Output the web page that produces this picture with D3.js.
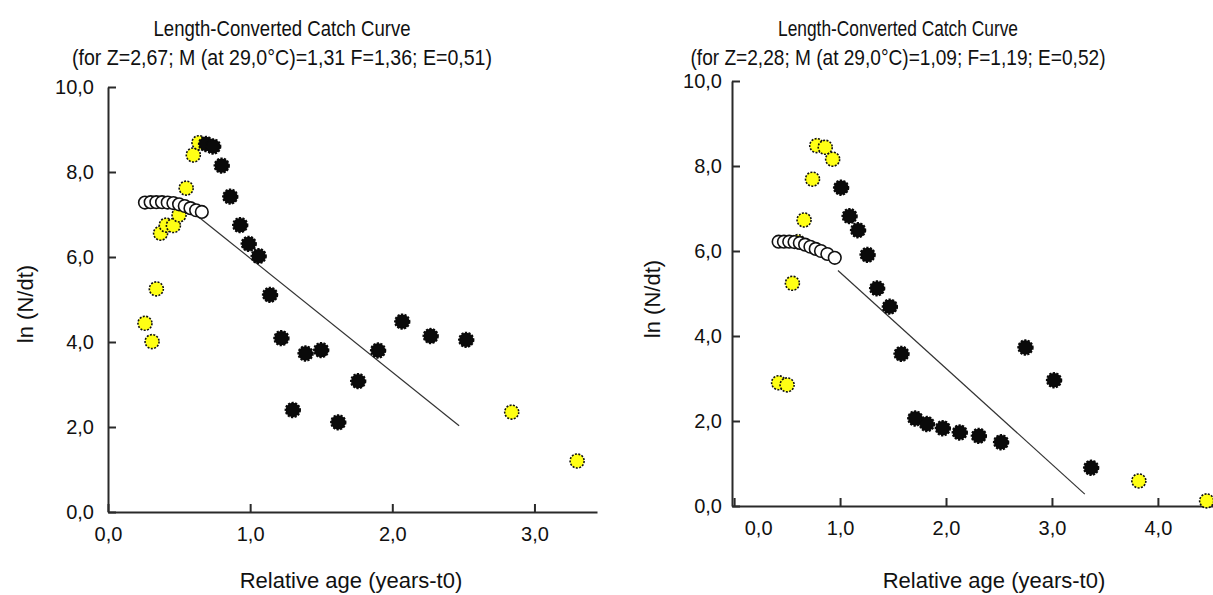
<!DOCTYPE html>
<html>
<head>
<meta charset="utf-8">
<script src="https://cdn.jsdelivr.net/npm/d3@7/dist/d3.min.js"></script>
<style>
  body { margin: 0; background: #fff; }
  svg { display: block; font-family: "Liberation Sans", Arial, sans-serif; }
  .axis path, .axis line { stroke: #2a2a2a; stroke-width: 2; }
  .axis text { font-family: "Liberation Sans", Arial, sans-serif; font-size: 20px; fill: #111; }
  .title, .axisTitle { fill: #111; }
</style>
</head>
<body>
<svg id="chart" width="1213" height="595"></svg>
<script>
// ---- left panel data
var leftTitle = ["Length-Converted Catch Curve", "(for Z=2,67; M (at 29,0°C)=1,31 F=1,36; E=0,51)"];
var leftXTicks = [0, 1, 2, 3];
var leftYTicks = [0, 2, 4, 6, 8, 10];
var leftYellowX = [0.26, 0.31, 0.34, 0.37, 0.41, 0.46, 0.50, 0.55, 0.60, 0.64, 2.84, 3.30];
var leftYellowY = [4.44, 4.01, 5.25, 6.56, 6.75, 6.74, 6.99, 7.62, 8.40, 8.69, 2.35, 1.20];
var leftOpenX = [0.26, 0.30, 0.34, 0.38, 0.42, 0.46, 0.50, 0.54, 0.58, 0.62, 0.66];
var leftOpenY = [7.28, 7.29, 7.29, 7.29, 7.28, 7.27, 7.24, 7.20, 7.15, 7.10, 7.06];
var leftBlackX = [0.69, 0.74, 0.80, 0.86, 0.93, 0.99, 1.06, 1.14, 1.22, 1.30, 1.39, 1.50, 1.62, 1.76, 1.90, 2.07, 2.27, 2.52];
var leftBlackY = [8.66, 8.60, 8.15, 7.42, 6.75, 6.31, 6.02, 5.11, 4.09, 2.40, 3.73, 3.81, 2.11, 3.08, 3.80, 4.48, 4.14, 4.05];
var leftLineX = [0.62, 2.47];
var leftLineY = [6.99, 2.03];

// ---- right panel data
var rightTitle = ["Length-Converted Catch Curve", "(for Z=2,28; M (at 29,0°C)=1,09; F=1,19; E=0,52)"];
var rightXTicks = [0, 1, 2, 3, 4];
var rightYTicks = [0, 2, 4, 6, 8, 10];
var rightYellowX = [0.42, 0.50, 0.55, 0.60, 0.66, 0.74, 0.78, 0.86, 0.93, 3.82, 4.46];
var rightYellowY = [2.90, 2.85, 5.24, 6.22, 6.73, 7.69, 8.48, 8.44, 8.16, 0.59, 0.12];
var rightOpenX = [0.42, 0.47, 0.52, 0.57, 0.62, 0.67, 0.72, 0.77, 0.82, 0.88, 0.95];
var rightOpenY = [6.22, 6.22, 6.22, 6.21, 6.19, 6.15, 6.10, 6.05, 6.00, 5.93, 5.84];
var rightBlackX = [1.01, 1.09, 1.17, 1.26, 1.35, 1.47, 1.58, 1.71, 1.82, 1.97, 2.13, 2.31, 2.52, 2.75, 3.02, 3.37];
var rightBlackY = [7.49, 6.82, 6.49, 5.91, 5.12, 4.69, 3.58, 2.06, 1.93, 1.83, 1.73, 1.65, 1.50, 3.73, 2.96, 0.90];
var rightLineX = [0.98, 3.31];
var rightLineY = [5.54, 0.28];

var xLabel = "Relative age (years-t0)";
var yLabel = "ln (N/dt)";

var svg = d3.select("#chart");
var fmt = function (d) { return d3.format(".1f")(d).replace(".", ","); };

drawPanel({
  title: leftTitle, titleX: 282, titleLen: [257, 420],
  xTicks: leftXTicks, yTicks: leftYTicks,
  xDomain: [0, 3.44], xRange: [108, 597], yRange: [512, 87],
  yPad: 14, zeroShift: 0,
  yellow: d3.zip(leftYellowX, leftYellowY),
  open: d3.zip(leftOpenX, leftOpenY),
  black: d3.zip(leftBlackX, leftBlackY),
  line: d3.zip(leftLineX, leftLineY),
  xTitleX: 351, yTitleX: 33, yTitleY: 304
});

drawPanel({
  title: rightTitle, titleX: 898, titleLen: [240, 415],
  xTicks: rightXTicks, yTicks: rightYTicks,
  xDomain: [-0.02, 4.52], xRange: [732, 1213], yRange: [506, 81],
  yPad: 10, zeroShift: 24,
  yellow: d3.zip(rightYellowX, rightYellowY),
  open: d3.zip(rightOpenX, rightOpenY),
  black: d3.zip(rightBlackX, rightBlackY),
  line: d3.zip(rightLineX, rightLineY),
  xTitleX: 994, yTitleX: 660, yTitleY: 299
});

function drawPanel(p) {
  var g = svg.append("g");
  var x = d3.scaleLinear().domain(p.xDomain).range(p.xRange);
  var y = d3.scaleLinear().domain([0, 10]).range(p.yRange);

  // title, two lines (narrowed to match the condensed original face)
  g.selectAll(".title")
    .data(p.title)
    .enter()
    .append("text")
    .attr("class", "title")
    .attr("x", p.titleX)
    .attr("y", function (d, i) { return 36 + i * 29; })
    .attr("text-anchor", "middle")
    .attr("textLength", function (d, i) { return p.titleLen[i]; })
    .attr("lengthAdjust", "spacingAndGlyphs")
    .style("font-size", "21.5px")
    .text(function (d) { return d; });

  // x axis, ticks pointing inward
  var xAxis = g.append("g")
    .attr("class", "axis")
    .attr("transform", "translate(0," + p.yRange[0] + ")")
    .call(d3.axisBottom(x).tickValues(p.xTicks).tickFormat(fmt)
      .tickSizeInner(-8).tickSizeOuter(0).tickPadding(15));

  // the 0,0 label on the right chart sits off the axis origin
  xAxis.selectAll(".tick text")
    .filter(function (d) { return d === 0; })
    .attr("dx", p.zeroShift);

  g.append("g")
    .attr("class", "axis")
    .attr("transform", "translate(" + p.xRange[0] + ",0)")
    .call(d3.axisLeft(y).tickValues(p.yTicks).tickFormat(fmt)
      .tickSizeInner(-8).tickSizeOuter(0).tickPadding(p.yPad));

  // fitted line
  g.append("path")
    .datum(p.line)
    .attr("fill", "none")
    .attr("stroke", "#333")
    .attr("stroke-width", 1.2)
    .attr("d", d3.line()
      .x(function (d) { return x(d[0]); })
      .y(function (d) { return y(d[1]); }));

  // points not used, yellow
  g.selectAll(".yellowPt")
    .data(p.yellow)
    .enter()
    .append("circle")
    .attr("class", "yellowPt")
    .attr("cx", function (d) { return x(d[0]); })
    .attr("cy", function (d) { return y(d[1]); })
    .attr("r", 7)
    .attr("fill", "#ffff14")
    .attr("stroke", "#111")
    .attr("stroke-width", 1.6)
    .attr("stroke-dasharray", "2 1.4");

  // expected values, open circles
  g.selectAll(".openPt")
    .data(p.open)
    .enter()
    .append("circle")
    .attr("class", "openPt")
    .attr("cx", function (d) { return x(d[0]); })
    .attr("cy", function (d) { return y(d[1]); })
    .attr("r", 6.3)
    .attr("fill", "#fff")
    .attr("stroke", "#111")
    .attr("stroke-width", 1.6);

  // points used in regression, black
  g.selectAll(".blackPt")
    .data(p.black)
    .enter()
    .append("circle")
    .attr("class", "blackPt")
    .attr("cx", function (d) { return x(d[0]); })
    .attr("cy", function (d) { return y(d[1]); })
    .attr("r", 7.2)
    .attr("fill", "#0a0a0a")
    .attr("stroke", "#0a0a0a")
    .attr("stroke-width", 2)
    .attr("stroke-dasharray", "2.2 1.4");

  // axis titles
  g.append("text")
    .attr("class", "axisTitle")
    .attr("x", p.xTitleX)
    .attr("y", 588)
    .attr("text-anchor", "middle")
    .style("font-size", "22px")
    .text(xLabel);

  g.append("text")
    .attr("class", "axisTitle")
    .attr("transform", "translate(" + p.yTitleX + "," + p.yTitleY + ") rotate(-90)")
    .attr("text-anchor", "middle")
    .style("font-size", "22px")
    .text(yLabel);
}
</script>
</body>
</html>
